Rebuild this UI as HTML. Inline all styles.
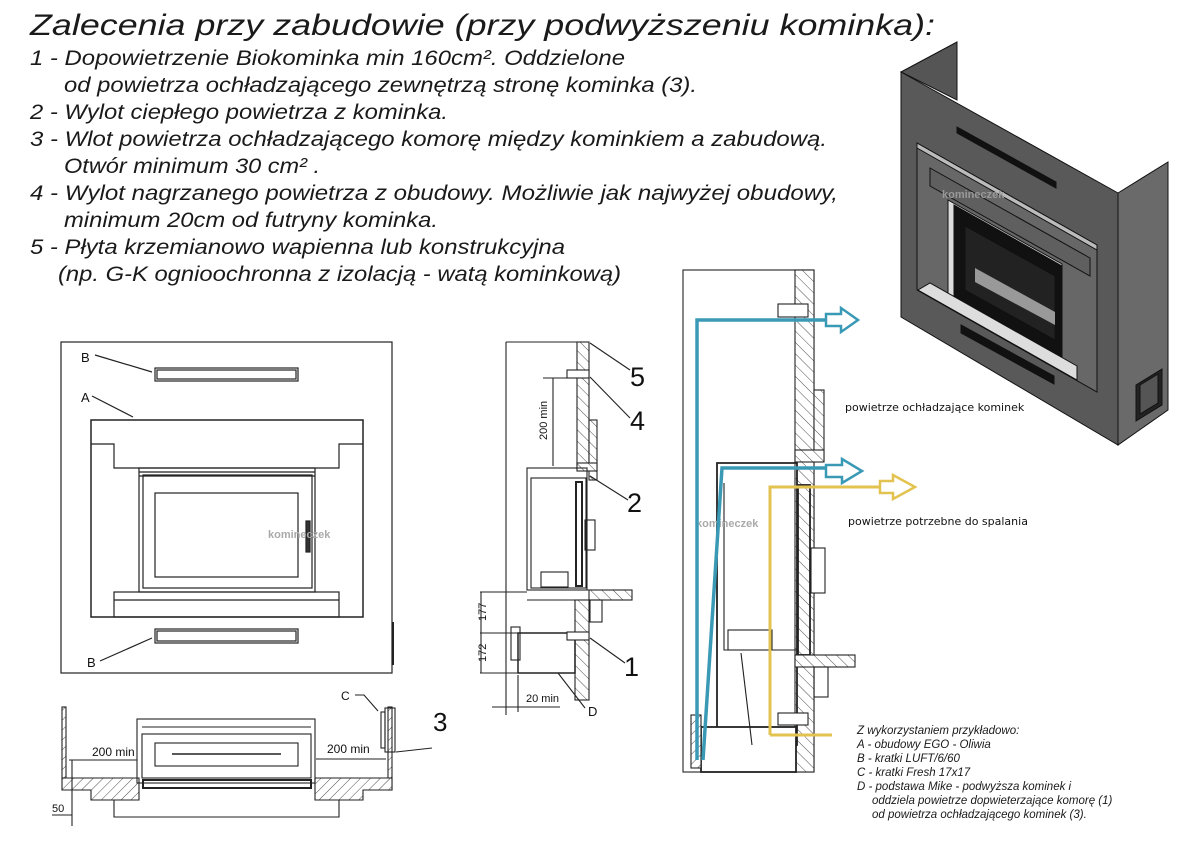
<!DOCTYPE html>
<html><head><meta charset="utf-8"><style>
html,body{margin:0;padding:0;background:#fff;}
svg{display:block;}
.t{font-family:"Liberation Sans",sans-serif;font-style:italic;fill:#1a1a1a;}
.l{font-family:"Liberation Sans",sans-serif;fill:#111;}
.k{font-family:"DejaVu Sans","Liberation Sans",sans-serif;fill:#111;font-size:11px;}
</style></head><body>
<svg width="1195" height="843" viewBox="0 0 1195 843" xmlns="http://www.w3.org/2000/svg">
<defs>
<pattern id="h" width="7" height="7" patternUnits="userSpaceOnUse" patternTransform="rotate(45)">
<rect width="7" height="7" fill="#fff"/><line x1="0" y1="0" x2="0" y2="7" stroke="#222" stroke-width="0.8"/></pattern>
<pattern id="h2" width="8" height="8" patternUnits="userSpaceOnUse" patternTransform="rotate(-45)">
<rect width="8" height="8" fill="#fff"/><line x1="0" y1="0" x2="0" y2="8" stroke="#222" stroke-width="0.8"/></pattern>
</defs>
<rect width="1195" height="843" fill="#fff"/>
<!-- title -->
<text class="t" x="30" y="35" font-size="30" textLength="905" lengthAdjust="spacingAndGlyphs">Zalecenia przy zabudowie (przy podwyższeniu kominka):</text>
<g class="t" font-size="21">
<text x="30" y="65" textLength="595" lengthAdjust="spacingAndGlyphs">1 - Dopowietrzenie Biokominka min 160cm². Oddzielone</text>
<text x="64" y="92" textLength="633" lengthAdjust="spacingAndGlyphs">od powietrza ochładzającego zewnętrzą stronę kominka (3).</text>
<text x="30" y="119" textLength="418" lengthAdjust="spacingAndGlyphs">2 - Wylot ciepłego powietrza z kominka.</text>
<text x="30" y="146" textLength="797" lengthAdjust="spacingAndGlyphs">3 - Wlot powietrza ochładzającego komorę między kominkiem a zabudową.</text>
<text x="64" y="173" textLength="256" lengthAdjust="spacingAndGlyphs">Otwór minimum 30 cm² .</text>
<text x="30" y="200" textLength="808" lengthAdjust="spacingAndGlyphs">4 - Wylot nagrzanego powietrza z obudowy. Możliwie jak najwyżej obudowy,</text>
<text x="64" y="227" textLength="374" lengthAdjust="spacingAndGlyphs">minimum 20cm od futryny kominka.</text>
<text x="30" y="254" textLength="535" lengthAdjust="spacingAndGlyphs">5 - Płyta krzemianowo wapienna lub konstrukcyjna</text>
<text x="58" y="281" textLength="563" lengthAdjust="spacingAndGlyphs">(np. G-K ognioochronna z izolacją - watą kominkową)</text>
</g>

<!-- FRONT VIEW -->
<g fill="none" stroke="#222" stroke-width="1.2">
<rect x="61" y="342" width="331" height="331"/>
<line x1="393" y1="622" x2="393" y2="665" stroke-width="2"/>
<rect x="155" y="368" width="143" height="13"/><rect x="157" y="370" width="139" height="9"/>
<rect x="155" y="629" width="143" height="14"/><rect x="157" y="631" width="139" height="10"/>
<path d="M91 420 H363 V617 H91 Z" stroke-width="1.5"/>
<path d="M91 444 H114 V468 H339 V444 H363"/>
<rect x="139" y="468" width="176" height="124"/>
<rect x="143" y="475" width="169" height="113"/>
<rect x="155" y="493" width="143" height="84"/>
<line x1="139" y1="472" x2="315" y2="472"/><line x1="139" y1="476" x2="315" y2="476"/>
<rect x="306" y="521" width="4" height="31" fill="#333"/>
<rect x="114" y="592" width="225" height="25"/><line x1="114" y1="600" x2="339" y2="600"/>
<path d="M95 355 L152 372"/><path d="M92 396 L133 417"/><path d="M100 661 L152 638"/>
</g>
<g class="l" font-size="13"><text x="81" y="362">B</text><text x="81" y="402">A</text><text x="87" y="667">B</text></g>
<text x="268" y="538" font-family="Liberation Sans,sans-serif" font-weight="bold" font-size="11" fill="#aaa">komineczek</text>

<!-- PLAN VIEW -->
<g fill="none" stroke="#222" stroke-width="1.1">
<rect x="62" y="707" width="4" height="71" fill="url(#h)"/>
<rect x="388" y="707" width="4" height="83" fill="url(#h)"/>
<path d="M62 778 H139 V800 H91 V790 H62 Z" fill="url(#h)"/>
<path d="M392 778 H315 V800 H363 V790 H392 Z" fill="url(#h)"/>
<path d="M114 800 V817 H339 V800"/>
<rect x="137" y="719" width="178" height="64"/>
<rect x="142" y="734" width="169" height="44"/>
<rect x="155" y="743" width="143" height="23"/>
<line x1="172" y1="754" x2="281" y2="754" stroke-width="1.5"/>
<line x1="142" y1="727" x2="311" y2="727"/>
<rect x="143" y="780" width="168" height="8" stroke-width="2"/>
<rect x="381" y="712" width="4" height="36"/><rect x="385" y="708" width="10" height="44"/>
<line x1="69" y1="760" x2="137" y2="760"/><line x1="316" y1="759" x2="386" y2="759"/>
<line x1="72" y1="760" x2="72" y2="826"/><line x1="52" y1="815" x2="72" y2="815"/>
<path d="M355 695 H364 L378 711"/><path d="M396 752 L432 748"/>
</g>
<g class="l" font-size="12"><text x="92" y="756">200 min</text><text x="327" y="753">200 min</text><text x="52" y="812" font-size="11">50</text><text x="341" y="700">C</text></g>
<text class="l" x="433" y="731" font-size="26">3</text>

<!-- SIDE VIEW -->
<g fill="none" stroke="#222" stroke-width="1.1">
<line x1="506" y1="342" x2="506" y2="715"/>
<line x1="506" y1="342" x2="577" y2="342"/>
<rect x="577" y="342" width="12" height="127" fill="url(#h2)"/>
<rect x="589" y="420" width="8" height="60" fill="url(#h2)"/>
<rect x="577" y="463" width="20" height="8" fill="url(#h2)"/>
<rect x="567" y="370" width="22" height="8" fill="#fff"/>
<rect x="527" y="468" width="60" height="122"/>
<rect x="531" y="478" width="55" height="110"/>
<rect x="576" y="482" width="6" height="104" stroke-width="2"/>
<rect x="585" y="520" width="10" height="30"/>
<rect x="541" y="572" width="27" height="15"/>
<path d="M527 590 H597 V600 H527"/>
<rect x="589" y="590" width="43" height="10" fill="url(#h2)"/>
<rect x="590" y="600" width="12" height="22"/>
<rect x="575" y="600" width="14" height="100" fill="url(#h2)"/>
<rect x="518" y="633" width="57" height="40" stroke-width="1.5"/>
<rect x="511" y="627" width="9" height="33"/>
<rect x="567" y="632" width="22" height="8" fill="#fff"/>
<line x1="480" y1="592" x2="527" y2="592"/><line x1="480" y1="633" x2="518" y2="633"/><line x1="480" y1="673" x2="518" y2="673"/>
<line x1="481" y1="592" x2="481" y2="673"/>
<line x1="543" y1="378" x2="575" y2="378"/><line x1="553" y1="378" x2="553" y2="466"/>
<line x1="518" y1="675" x2="518" y2="712"/><line x1="492" y1="707" x2="560" y2="707"/>
<path d="M590 343 L630 370"/><path d="M590 377 L630 418"/><path d="M590 476 L628 500"/><path d="M590 638 L625 663"/><path d="M558 673 L585 708"/>
</g>
<g class="l" font-size="11"><text transform="translate(547 440) rotate(-90)">200 min</text><text transform="translate(486 621) rotate(-90)">177</text><text transform="translate(486 662) rotate(-90)">172</text><text x="526" y="702">20 min</text><text x="588" y="716" font-size="13">D</text></g>
<g class="l" font-size="27"><text x="630" y="386">5</text><text x="630" y="430">4</text><text x="627" y="512">2</text><text x="624" y="676">1</text></g>

<!-- RIGHT SECTION -->
<g fill="none" stroke="#222" stroke-width="1.1">
<rect x="683" y="270" width="131" height="502"/>
<rect x="795" y="270" width="19" height="502" fill="url(#h2)"/>
<rect x="814" y="390" width="10" height="70" fill="url(#h2)"/>
<rect x="795" y="450" width="29" height="12" fill="url(#h2)"/>
<rect x="778" y="304" width="30" height="13" fill="#fff"/>
<path d="M717 463 H797 V745 H717 Z" stroke-width="1.8"/>
<path d="M724 483 V650 H797"/>
<rect x="798" y="485" width="12" height="170" stroke-width="1.8"/>
<rect x="811" y="548" width="14" height="45" fill="#fff"/>
<rect x="728" y="630" width="44" height="20"/>
<rect x="795" y="655" width="60" height="12" fill="url(#h2)"/>
<rect x="814" y="667" width="14" height="30"/>
<rect x="701" y="727" width="95" height="45" stroke-width="1.8" fill="#fff"/>
<rect x="691" y="715" width="10" height="53" fill="url(#h)"/>
<rect x="778" y="713" width="30" height="12" fill="#fff"/>
<path d="M741 653 L752 745"/>
</g>
<text x="696" y="527" font-family="Liberation Sans,sans-serif" font-weight="bold" font-size="11" fill="#aaa">komineczek</text>
<g fill="none" stroke="#3a9ab5" stroke-width="3.5">
<path d="M697 760 V320 H832"/>
<path d="M703 760 L722 468 H832"/>
</g>
<g fill="#fff" stroke="#3a9ab5" stroke-width="2.5">
<path d="M826 314 H841 V308 L858 320 L841 332 V326 H826 Z"/>
<path d="M826 465 H842 V459 L862 471 L842 483 V477 H826 Z"/>
</g>
<g fill="none" stroke="#e3c350" stroke-width="3">
<path d="M770 735 H832"/><path d="M770 735 V487 H882"/>
</g>
<path d="M880 481 H893 V475 L915 487 L893 499 V493 H880 Z" fill="#fff" stroke="#e3c350" stroke-width="2.5"/>
<g class="k"><text x="845" y="411">powietrze ochładzające kominek</text><text x="848" y="525">powietrze potrzebne do spalania</text></g>
<g class="t" font-size="11.5">
<text x="857" y="734">Z wykorzystaniem przykładowo:</text>
<text x="857" y="748">A - obudowy EGO - Oliwia</text>
<text x="857" y="762">B - kratki LUFT/6/60</text>
<text x="857" y="776">C - kratki Fresh 17x17</text>
<text x="857" y="790">D - podstawa Mike - podwyższa kominek i</text>
<text x="872" y="804">oddziela powietrze dopwieterzające komorę (1)</text>
<text x="872" y="818">od powietrza ochładzającego kominek (3).</text>
</g>

<!-- 3D RENDER -->
<g stroke="#111" stroke-width="1">
<path d="M901 72 L957 42 L957 100 Z" fill="#555"/>
<path d="M1118 193 L1168 162 L1168 410 L1118 445 Z" fill="#6a6a6a"/>
<path d="M901 72 L1118 193 L1118 445 L901 317 Z" fill="#595959"/>
<path d="M957 127 L1056 182 L1056 188 L957 133 Z" fill="#111"/>
<path d="M917 143 L1097 245 L1097 392 L917 290 Z" fill="#676767"/>
<path d="M917 143 L1097 245 L1097 250 L917 148 Z" fill="#bbb"/>
<path d="M930 168 L1090 258 L1090 276 L930 186 Z" fill="#5f5f5f"/>
<path d="M948 200 L1062 264 L1062 365 L948 300 Z" fill="#dcdcdc"/>
<path d="M954 205 L1062 266 L1062 362 L954 300 Z" fill="#111"/>
<path d="M965 226 L1055 276 L1055 340 L965 290 Z" fill="#222"/>
<path d="M975 268 L1055 312 L1055 325 L975 282 Z" fill="#999" stroke="none"/>
<path d="M918 290 L930 283 L1077 366 L1077 380 Z" fill="#ddd"/>
<path d="M961 325 L1054 376 L1054 384 L961 333 Z" fill="#111"/>
<path d="M1136 385 L1162 369 L1162 405 L1136 421 Z" fill="#222"/>
<path d="M1140 385 L1158 374 L1158 403 L1140 414 Z" fill="#555"/>
</g>
<text x="942" y="198" font-family="Liberation Sans,sans-serif" font-weight="bold" font-size="11" fill="#999">komineczek</text>
</svg>
</body></html>
